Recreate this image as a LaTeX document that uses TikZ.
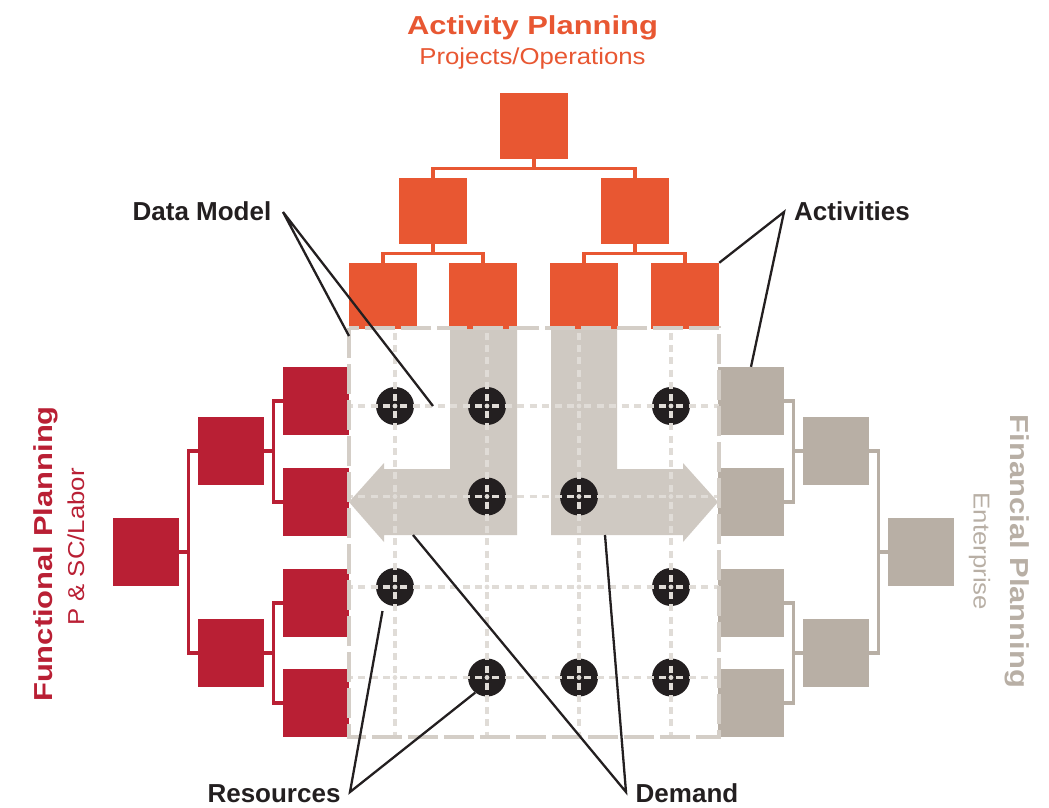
\documentclass[tikz,border=0pt]{standalone}
\usepackage{fontspec}
\setmainfont{Liberation Sans}
\newfontfamily\headfont[FakeStretch=1.19]{Liberation Sans}
\newfontfamily\subfont[FakeStretch=1.12]{Liberation Sans}
\definecolor{actorange}{HTML}{E85732}
\definecolor{funcred}{HTML}{B91F34}
\definecolor{fintan}{HTML}{B8AFA5}
\definecolor{flowgrey}{HTML}{CFC9C2}
\definecolor{gridgrey}{HTML}{E0DCD7}
\definecolor{framegrey}{HTML}{D4CEC7}
\definecolor{ink}{HTML}{231F20}

\begin{document}
\begin{tikzpicture}[x=1pt,y=-1pt,
  hbox/.style={rectangle, inner sep=0pt, minimum width=68pt, minimum height=66pt, draw=none},
  vbox/.style={rectangle, inner sep=0pt, minimum width=66pt, minimum height=68pt, draw=none},
  obox/.style={hbox, fill=actorange},
  rbox/.style={vbox, fill=funcred},
  gbox/.style={vbox, fill=fintan},
  olink/.style={draw=actorange, line width=3.3pt},
  rlink/.style={draw=funcred, line width=3.3pt},
  glink/.style={draw=fintan, line width=3.3pt},
  flow/.style={fill=flowgrey, draw=none},
  hub/.style={circle, inner sep=0pt, minimum size=38pt, fill=ink, draw=none},
  hgrid/.style={draw=gridgrey, line width=3.5pt,
    dash pattern=on 7pt off 5.5pt on 7pt off 5.5pt on 7pt off 5.5pt on 7pt off 5.5pt on 7pt off 5.5pt on 7pt off 5.5pt on 7pt off 10pt,
    dash phase=41pt},
  vgrid/.style={draw=gridgrey, line width=3.5pt,
    dash pattern=on 7pt off 5.25pt on 7pt off 5.25pt on 7pt off 5.25pt on 7pt off 5.25pt on 7pt off 5.25pt on 7pt off 5.25pt on 7pt off 10pt,
    dash phase=7.5pt},
  framebox/.style={draw=framegrey, line width=4pt, dash pattern=on 30pt off 6pt},
  leader/.style={draw=ink, line width=2.3pt},
  label/.style={inner sep=0pt, anchor=base, text=ink, font=\bfseries\fontsize{26}{30}\selectfont},
  headline/.style={inner sep=0pt, anchor=base, font=\headfont\bfseries\fontsize{26}{30}\selectfont},
  subline/.style={inner sep=0pt, anchor=base, font=\subfont\fontsize{23}{27}\selectfont}
]
\useasboundingbox (0,0) rectangle (1049,807);

% demand flows: two L-shaped arrows inside the matrix
\path[flow] (450,328) -- (517,328) -- (517,535) -- (384,535) -- (384,542)
  -- (349,502) -- (384,463) -- (384,469) -- (450,469) -- cycle;
\path[flow] (617,328) -- (551,328) -- (551,535) -- (683,535) -- (683,542)
  -- (718,502) -- (683,463) -- (683,469) -- (617,469) -- cycle;

% activity hierarchy (top)
\node[obox] (t0) at (534,126) {};
\node[obox] (t1) at (433,211) {};
\node[obox] (t2) at (635,211) {};
\node[obox] (t3) at (383,296) {};
\node[obox] (t4) at (483,296) {};
\node[obox] (t5) at (584,296) {};
\node[obox] (t6) at (685,296) {};
\draw[olink] (t0.south) -- ++(0,9.5) -| (t1.north);
\draw[olink] (t0.south) -- ++(0,9.5) -| (t2.north);
\draw[olink] (t1.south) -- ++(0,9.5) -| (t3.north);
\draw[olink] (t1.south) -- ++(0,9.5) -| (t4.north);
\draw[olink] (t2.south) -- ++(0,9.5) -| (t5.north);
\draw[olink] (t2.south) -- ++(0,9.5) -| (t6.north);

% functional hierarchy (left)
\node[rbox] (l0) at (146,552) {};
\node[rbox] (l1) at (231,451) {};
\node[rbox] (l2) at (231,653) {};
\node[rbox] (l3) at (316,401) {};
\node[rbox] (l4) at (316,502) {};
\node[rbox] (l5) at (316,603) {};
\node[rbox] (l6) at (316,703) {};
\draw[rlink] (l0.east) -- ++(9,0) |- (l1.west);
\draw[rlink] (l0.east) -- ++(9,0) |- (l2.west);
\draw[rlink] (l1.east) -- ++(9,0) |- (l3.west);
\draw[rlink] (l1.east) -- ++(9,0) |- (l4.west);
\draw[rlink] (l2.east) -- ++(9,0) |- (l5.west);
\draw[rlink] (l2.east) -- ++(9,0) |- (l6.west);

% financial hierarchy (right)
\node[gbox] (g0) at (921,552) {};
\node[gbox] (g1) at (836,451) {};
\node[gbox] (g2) at (836,653) {};
\node[gbox] (g3) at (751,401) {};
\node[gbox] (g4) at (751,502) {};
\node[gbox] (g5) at (751,603) {};
\node[gbox] (g6) at (751,703) {};
\draw[glink] (g0.west) -- ++(-9,0) |- (g1.east);
\draw[glink] (g0.west) -- ++(-9,0) |- (g2.east);
\draw[glink] (g1.west) -- ++(-9,0) |- (g3.east);
\draw[glink] (g1.west) -- ++(-9,0) |- (g4.east);
\draw[glink] (g2.west) -- ++(-9,0) |- (g5.east);
\draw[glink] (g2.west) -- ++(-9,0) |- (g6.east);

% data points in the matrix
\node[hub] (c1) at (395,406) {};
\node[hub] (c2) at (487,406) {};
\node[hub] (c3) at (671,406) {};
\node[hub] (c4) at (487,496.5) {};
\node[hub] (c5) at (579,496.5) {};
\node[hub] (c6) at (395,587) {};
\node[hub] (c7) at (671,587) {};
\node[hub] (c8) at (487,677.5) {};
\node[hub] (c9) at (579,677.5) {};
\node[hub] (c10) at (671,677.5) {};

% matrix grid
\foreach \gy in {406,496.5,587,677.5}
  \draw[hgrid] (349,\gy) -- (719,\gy);
\foreach \gx in {395,487,579,671}
  \draw[vgrid] (\gx,328) -- (\gx,737);
\foreach \gx in {395,487,579,671}
  \foreach \gy in {406,496.5,587,677.5}
    \fill[gridgrey] (\gx,\gy) circle[radius=2.4pt];
\draw[framebox] (349,328) rectangle (719,737);

% callout anchors
\coordinate (dmA) at (283,212);
\coordinate (dm1) at (349,336);
\coordinate (dm2) at (433,406);
\coordinate (acA) at (784,212);
\coordinate (rsA) at (350,792);
\coordinate (rs1) at (382.5,611);
\coordinate (dcA) at (626,792);
\coordinate (dc1) at (413,535);
\coordinate (dc2) at (605,535);

\draw[leader] (dm1) -- (dmA) -- (dm2);
\draw[leader] (t6.north east) -- (acA) -- (g3.north);
\draw[leader] (rs1) -- (rsA) -- (c8.232);
\draw[leader] (dc1) -- (dcA) -- (dc2);

% callout labels
\node[label] (dmlabel) at (202,220) {Data Model};
\node[label] (aclabel) at (852,220) {Activities};
\node[label] (rslabel) at (274,802.5) {Resources};
\node[label] (dclabel) at (687,802.5) {Demand};

% planning titles
\node[headline, text=actorange] (acttitle) at (532.5,34.3) {Activity Planning};
\node[subline, text=actorange] (actsub) at (532.5,64.3) {Projects/Operations};
\node[headline, text=funcred, rotate=90] (functitle) at (52,554) {Functional Planning};
\node[subline, text=funcred, rotate=90] (funcsub) at (84,547) {P \& SC/Labor};
\node[headline, text=fintan, rotate=-90] (fintitle) at (1010,551.5) {Financial Planning};
\node[subline, text=fintan, rotate=-90] (finsub) at (973.5,551.5) {Enterprise};
\end{tikzpicture}
\end{document}
